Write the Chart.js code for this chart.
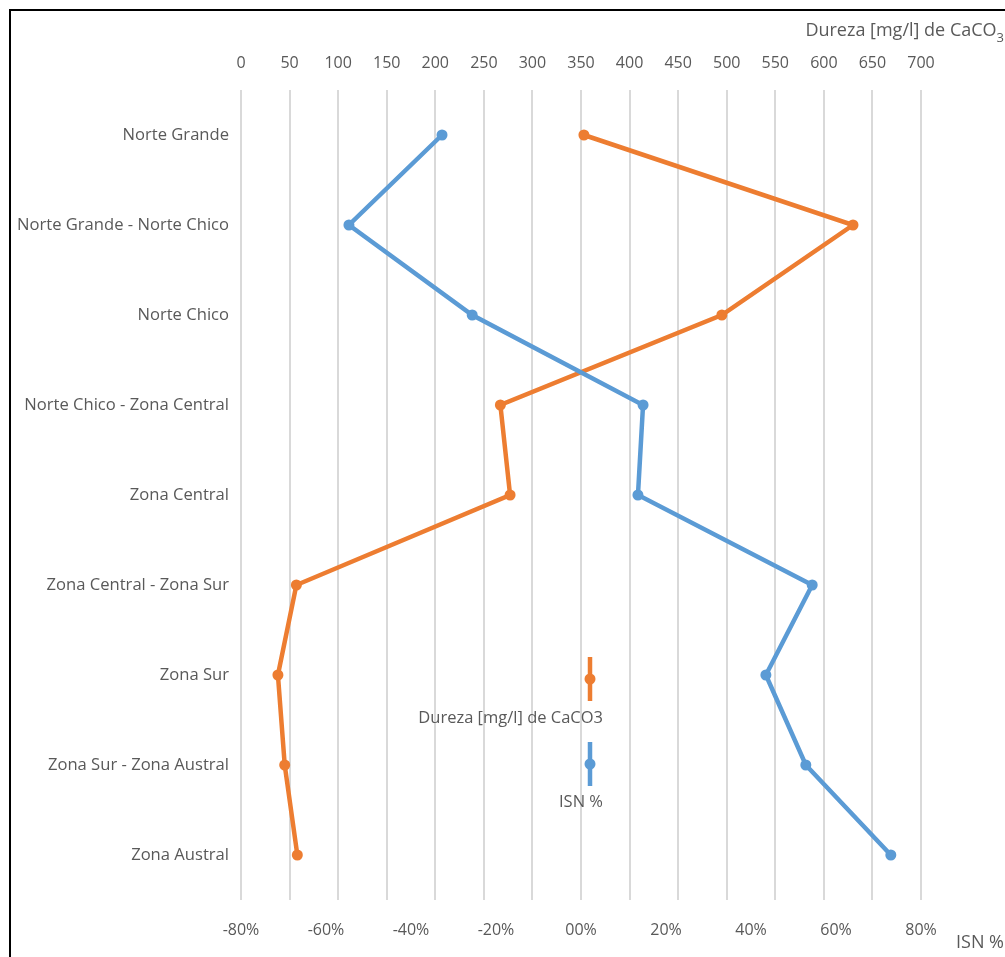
<!DOCTYPE html>
<html>
<head>
<meta charset="utf-8">
<script src="https://cdn.jsdelivr.net/npm/chart.js@4/dist/chart.umd.min.js"></script>
<style>
  body { margin: 0; background: #fff; }
  #wrap { position: relative; width: 1005px; height: 957px; overflow: hidden; }
  #frame { position: absolute; left: 9px; top: 9px; width: 1100px; height: 1100px;
           border-left: 2px solid #000; border-top: 2px solid #000; pointer-events: none; }
  canvas { position: absolute; left: 0; top: 0; }
</style>
</head>
<body>
<div id="wrap">
  <canvas id="myChart" width="1005" height="957"></canvas>
  <div id="frame"></div>
</div>
<script>
var categories = ['Norte Grande', 'Norte Grande - Norte Chico', 'Norte Chico', 'Norte Chico - Zona Central',
  'Zona Central', 'Zona Central - Zona Sur', 'Zona Sur', 'Zona Sur - Zona Austral', 'Zona Austral'];
// Dureza [mg/l] de CaCO3 (top axis)
var durezaValues = [353, 630, 495, 267, 277, 57, 38, 45, 58];
// ISN % (bottom axis)
var isnValues = [-32.7, -54.6, -25.6, 14.6, 13.4, 54.4, 43.5, 52.9, 72.9];
var durezaTicks = { min: 0, max: 700, step: 50 };
var isnTicks = { min: -80, max: 80, step: 20 };

var blue = '#5B9BD5';
var orange = '#ED7D31';
var txt = '#595959';
var fontName = "'Open Sans', sans-serif";

// legend + axis titles are drawn by hand, excel style
var extras = {
  id: 'extras',
  afterDraw: function(chart) {
    var c = chart.ctx;
    c.save();
    c.fillStyle = txt;
    // top axis title with subscript
    c.textBaseline = 'middle';
    c.textAlign = 'left';
    var main = 'Dureza [mg/l] de CaCO';
    c.font = '13px ' + fontName;
    var subW = c.measureText('3').width;
    c.font = '18px ' + fontName;
    var mainW = c.measureText(main).width;
    var x0 = 1004 - subW - mainW;
    c.fillText(main, x0, 31);
    c.font = '13px ' + fontName;
    c.fillText('3', x0 + mainW, 38);
    // bottom axis title
    c.font = '18px ' + fontName;
    c.textAlign = 'right';
    c.fillText('ISN %', 1004, 943);

    // legend
    var items = [
      { label: 'Dureza [mg/l] de CaCO3', color: orange, y: 679, ly: 718 },
      { label: 'ISN %', color: blue, y: 764, ly: 802 }
    ];
    items.forEach(function(it) {
      c.strokeStyle = it.color;
      c.lineWidth = 4.5;
      c.beginPath();
      c.moveTo(590, it.y - 22);
      c.lineTo(590, it.y + 22);
      c.stroke();
      c.fillStyle = it.color;
      c.beginPath();
      c.arc(590, it.y, 5.5, 0, Math.PI * 2);
      c.fill();
      c.fillStyle = txt;
      c.font = '16.5px ' + fontName;
      c.textAlign = 'right';
      c.textBaseline = 'middle';
      c.fillText(it.label, 603, it.ly);
    });
    c.restore();
  }
};

var ctx = document.getElementById('myChart');
new Chart(ctx, {
  type: 'line',
  data: {
    labels: categories,
    datasets: [{
      label: 'Dureza [mg/l] de CaCO3',
      data: durezaValues,
      xAxisID: 'x2',
      borderColor: orange,
      backgroundColor: orange,
      borderWidth: 4.5,
      pointRadius: 5.5,
      pointBorderWidth: 0,
      tension: 0,
      order: 2
    }, {
      label: 'ISN %',
      data: isnValues,
      xAxisID: 'x',
      borderColor: blue,
      backgroundColor: blue,
      borderWidth: 4.5,
      pointRadius: 5.5,
      pointBorderWidth: 0,
      tension: 0,
      order: 1
    }]
  },
  options: {
    indexAxis: 'y',
    responsive: false,
    animation: false,
    layout: { padding: { left: 0, right: 84, top: 0, bottom: 0 } },
    plugins: {
      legend: { display: false },
      tooltip: { enabled: false }
    },
    scales: {
      y: {
        type: 'category',
        offset: true,
        grid: { display: false, drawTicks: false },
        border: { display: false },
        ticks: { color: txt, font: { family: fontName, size: 16.6 }, padding: 12 },
        afterFit: function(s) { s.width = 241; }
      },
      x: {
        type: 'linear',
        position: 'bottom',
        min: isnTicks.min, max: isnTicks.max,
        grid: { display: false, drawTicks: false },
        border: { display: false },
        ticks: {
          stepSize: isnTicks.step,
          color: txt,
          font: { family: fontName, size: 16 },
          padding: 21,
          callback: function(v) {
            return (v < 0 ? '-' : '') + String(Math.abs(v)).padStart(2, '0') + '%';
          }
        },
        afterFit: function(s) { s.height = 57; }
      },
      x2: {
        type: 'linear',
        position: 'top',
        min: durezaTicks.min, max: durezaTicks.max,
        grid: { color: '#d9d9d9', lineWidth: 2, drawTicks: false },
        border: { display: false },
        ticks: { stepSize: durezaTicks.step, color: txt, font: { family: fontName, size: 16 }, padding: 17 },
        afterFit: function(s) { s.height = 90; }
      }
    }
  },
  plugins: [extras]
});
</script>
</body>
</html>
